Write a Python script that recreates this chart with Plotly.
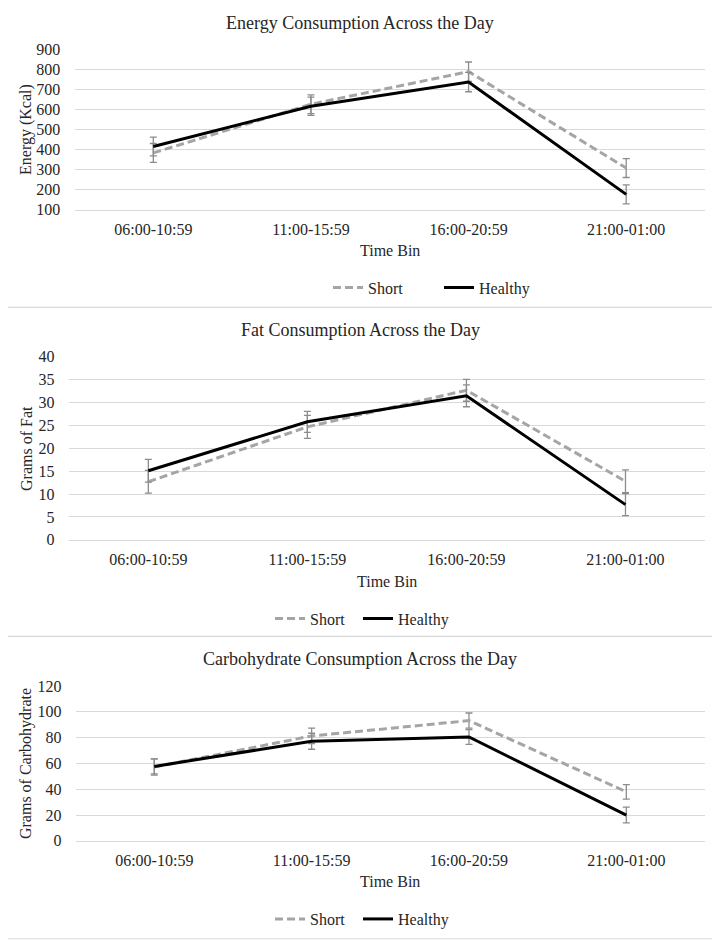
import plotly.graph_objects as go

# ---------------- data ----------------
categories = ["06:00-10:59", "11:00-15:59", "16:00-20:59", "21:00-01:00"]

energy_short = [383, 625, 787, 308]
energy_short_err = [47, 47, 48, 47]
energy_healthy = [415, 615, 735, 177]
energy_healthy_err = [47, 45, 48, 47]

fat_short = [12.7, 24.7, 32.7, 12.8]
fat_short_err = [2.5, 2.5, 2.4, 2.5]
fat_healthy = [15.1, 25.8, 31.5, 7.7]
fat_healthy_err = [2.5, 2.3, 2.4, 2.4]

carb_short = [57.2, 81.3, 93.2, 38.0]
carb_short_err = [6.3, 6.0, 5.9, 5.6]
carb_healthy = [57.7, 77.2, 80.5, 20.0]
carb_healthy_err = [5.8, 6.2, 5.7, 6.1]

titles = ["Energy Consumption Across the Day",
          "Fat Consumption Across the Day",
          "Carbohydrate Consumption Across the Day"]
y_titles = ["Energy (Kcal)", "Grams of Fat", "Grams of Carbohydrate"]
x_title = "Time Bin"
series_names = ["Short", "Healthy"]

# ---------------- layout geometry (target screen pixels) ----------------
W, H = 720, 940
OFF_X = 8            # page body margin
OFF_Y, K_Y = 15.6, 0.982
FONT = "Liberation Serif"
TXT = "#262626"
GRID = "#D9D9D9"
SHORT_C = "#A5A5A5"
HEALTHY_C = "#000000"
ERR_C = "#8C8C8C"

panels = [
    dict(x0=74.5, x1=705, y0=48.5, y1=209.5, rng=[100, 900], dtick=100,
         short=energy_short, short_err=energy_short_err,
         healthy=energy_healthy, healthy_err=energy_healthy_err,
         title_y=22.7, xt_y=250, yt_x=26.6, leg_x=328, leg_y=287.3,
         entry_short=66, box=(1, 307)),
    dict(x0=68.8, x1=705, y0=356.5, y1=539.5, rng=[0, 40], dtick=5,
         short=fat_short, short_err=fat_short_err,
         healthy=fat_healthy, healthy_err=fat_healthy_err,
         title_y=330, xt_y=581, yt_x=26.6, leg_x=270, leg_y=618.3,
         entry_short=43, box=(307, 636)),
    dict(x0=75.6, x1=705, y0=685.7, y1=840.5, rng=[0, 120], dtick=20,
         short=carb_short, short_err=carb_short_err,
         healthy=carb_healthy, healthy_err=carb_healthy_err,
         title_y=658.3, xt_y=880.7, yt_x=26.6, leg_x=270, leg_y=918.7,
         entry_short=43, box=(636, 938.5)),
]


def px_x(x):
    return (x - OFF_X) / W


def px_y(y):
    return 1 - ((y - OFF_Y) / K_Y) / H


fig = go.Figure()
layout = dict(
    width=W, height=H,
    margin=dict(l=0, r=0, t=0, b=0),
    paper_bgcolor="white", plot_bgcolor="white",
    font=dict(family=FONT, size=16, color=TXT),
    showlegend=True,
)
annotations = []
shapes = []

for i, p in enumerate(panels):
    n = i + 1
    xa = "x" if n == 1 else f"x{n}"
    ya = "y" if n == 1 else f"y{n}"
    leg = "legend" if n == 1 else f"legend{n}"

    fig.add_trace(go.Scatter(
        x=categories, y=p["short"], mode="lines", name=series_names[0],
        line=dict(color=SHORT_C, width=3, dash="8px,4px"),
        error_y=dict(type="data", array=p["short_err"], visible=True,
                     color=ERR_C, thickness=1.3, width=3.5),
        xaxis=xa, yaxis=ya, legend=leg, legendwidth=p["entry_short"],
    ))
    fig.add_trace(go.Scatter(
        x=categories, y=p["healthy"], mode="lines", name=series_names[1],
        line=dict(color=HEALTHY_C, width=3),
        error_y=dict(type="data", array=p["healthy_err"], visible=True,
                     color=ERR_C, thickness=1.3, width=3.5),
        xaxis=xa, yaxis=ya, legend=leg, legendwidth=62,
    ))

    xkey = "xaxis" if n == 1 else f"xaxis{n}"
    ykey = "yaxis" if n == 1 else f"yaxis{n}"
    layout[xkey] = dict(
        domain=[px_x(p["x0"]), px_x(p["x1"])], anchor=ya,
        type="category", range=[-0.5, 3.5],
        showgrid=False, zeroline=False,
        showline=True, linecolor=GRID, linewidth=1,
        ticks="outside", ticklen=5, tickcolor="rgba(0,0,0,0)",
        tickfont=dict(size=16, color=TXT, family=FONT),
        fixedrange=True,
    )
    layout[ykey] = dict(
        domain=[px_y(p["y1"]), px_y(p["y0"])], anchor=xa,
        range=p["rng"], dtick=p["dtick"], tick0=0,
        showgrid=True, gridcolor=GRID, gridwidth=1,
        zeroline=False, showline=False,
        ticks="outside", ticklen=10, tickcolor="rgba(0,0,0,0)",
        tickfont=dict(size=16, color=TXT, family=FONT),
        fixedrange=True,
    )
    layout[leg] = dict(
        orientation="h", x=px_x(p["leg_x"]), y=px_y(p["leg_y"]),
        xanchor="left", yanchor="middle",
        font=dict(size=16, color=TXT, family=FONT),
        bgcolor="rgba(0,0,0,0)", borderwidth=0,
        itemwidth=30,
    )

    # titles
    annotations.append(dict(
        text=titles[i], x=px_x(360), y=px_y(p["title_y"]),
        xref="paper", yref="paper", xanchor="center", yanchor="middle",
        showarrow=False, font=dict(size=18, color=TXT, family=FONT)))
    annotations.append(dict(
        text=x_title, x=px_x((p["x0"] + p["x1"]) / 2), y=px_y(p["xt_y"]),
        xref="paper", yref="paper", xanchor="center", yanchor="middle",
        showarrow=False, font=dict(size=16, color=TXT, family=FONT)))
    annotations.append(dict(
        text=y_titles[i], x=px_x(p["yt_x"]), y=px_y((p["y0"] + p["y1"]) / 2),
        xref="paper", yref="paper", xanchor="center", yanchor="middle",
        textangle=-90, showarrow=False,
        font=dict(size=16, color=TXT, family=FONT)))

    b0, b1 = p["box"]
    shapes.append(dict(
        type="rect", xref="paper", yref="paper",
        x0=px_x(1), x1=px_x(715), y0=px_y(b1), y1=px_y(b0),
        line=dict(color=GRID, width=1), layer="below"))

layout["annotations"] = annotations
layout["shapes"] = shapes
fig.update_layout(**layout)

fig.write_html("out.html")
